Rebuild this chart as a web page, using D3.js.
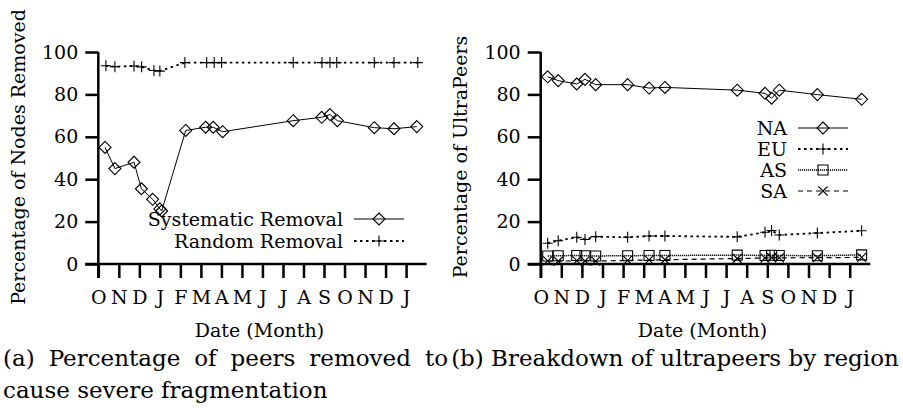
<!DOCTYPE html>
<html>
<head>
<meta charset="utf-8">
<script src="https://cdn.jsdelivr.net/npm/d3@7"></script>
<style>
  body { margin: 0; background: #fff; }
  svg { display: block; }
  text { font-family: "DejaVu Serif", serif; fill: #000; }
</style>
</head>
<body>
<svg id="chart" width="903" height="408"></svg>
<script>
// --- Data (months counted from the first October tick) ---
const monthTicks = ["O", "N", "D", "J", "F", "M", "A", "M", "J", "J", "A", "S", "O", "N", "D", "J"];
const yTicks = [0, 20, 40, 60, 80, 100];

// (a) fragmentation
const sysMonths = [0.33, 0.81, 1.74, 2.1, 2.65, 3.0, 3.09, 4.26, 5.23, 5.6, 6.06, 9.5, 10.89, 11.29, 11.65, 13.45, 14.41, 15.52];
const sysValues = [55, 45, 48, 35.5, 30.5, 26, 25, 63, 64.5, 64.5, 62.4, 67.6, 69.2, 70.5, 67.6, 64.3, 63.8, 64.8];
const randMonths = [0.37, 0.81, 1.74, 2.11, 2.71, 3.0, 4.22, 5.28, 5.65, 6.01, 9.5, 10.9, 11.29, 11.62, 13.45, 14.41, 15.57];
const randValues = [93.5, 93.1, 93.4, 93.0, 91.3, 91.0, 95.0, 95.0, 95.0, 95.0, 95.0, 95.0, 95.0, 95.0, 95.0, 95.0, 95.0];

// (b) ultrapeers by region
const regionMonths = [0.34, 0.85, 1.75, 2.15, 2.67, 4.22, 5.26, 6.03, 9.54, 10.89, 11.21, 11.58, 13.43, 15.58];
const naValues = [88.3, 86.5, 84.9, 87.1, 84.6, 84.6, 83.0, 83.3, 82.0, 80.5, 78.2, 82.0, 79.9, 77.7];
const euValues = [9.8, 11.0, 12.6, 11.6, 12.9, 12.6, 13.2, 13.2, 12.8, 15.0, 15.8, 13.7, 14.6, 15.7];
const asValues = [3.8, 3.9, 4.0, 3.9, 3.8, 3.9, 4.0, 4.0, 4.2, 4.0, 4.1, 4.0, 3.9, 4.3];
const saValues = [1.5, 1.3, 1.6, 1.5, 1.4, 1.7, 1.9, 2.0, 2.6, 2.8, 3.0, 2.9, 3.0, 3.1];

const svg = d3.select("#chart");
const FONT = 19;

// --- Marker shapes ---
const markers = {
  diamond: "M0,-6L6,0L0,6L-6,0Z",
  plus: "M-5,0H5M0,-5.5V5.5",
  square: "M-5,-5H5V5H-5Z",
  cross: "M-4.5,-4.5L4.5,4.5M-4.5,4.5L4.5,-4.5"
};

const zip = (ms, vs) => ms.map((m, i) => ({ m, v: vs[i] }));

function drawPanel(p) {
  const g = svg.append("g");
  const x = d3.scaleLinear().domain([0, 16]).range([p.x0, p.x1]);
  const y = d3.scaleLinear().domain([0, 100]).range([264, 52]);

  // axes: left ticks pointing out, bottom ticks pointing down
  const yAxis = g.append("g").attr("transform", `translate(${p.x0},0)`)
    .call(d3.axisLeft(y).tickValues(yTicks).tickSizeInner(13).tickSizeOuter(0).tickPadding(7));
  const xAxis = g.append("g").attr("transform", "translate(0,264)")
    .call(d3.axisBottom(x).tickValues(d3.range(monthTicks.length))
      .tickFormat(i => monthTicks[i]).tickSizeInner(14).tickSizeOuter(0).tickPadding(13));
  [yAxis, xAxis].forEach(a => {
    a.select(".domain").remove();
    a.selectAll("line").attr("stroke", "#000").attr("stroke-width", 2.5);
    a.selectAll("text").attr("font-size", FONT).attr("font-family", "DejaVu Serif").attr("fill", "#000");
  });
  g.append("line").attr("x1", p.x0).attr("x2", p.x0).attr("y1", y(100)).attr("y2", 278)
    .attr("stroke", "#000").attr("stroke-width", 2.5);
  g.append("line").attr("x1", p.x0 - 13).attr("x2", p.x1).attr("y1", y(0)).attr("y2", y(0))
    .attr("stroke", "#000").attr("stroke-width", 2.5);

  // axis titles
  g.append("text").attr("transform", `translate(${p.yLabelX},157) rotate(-90)`)
    .attr("text-anchor", "middle").attr("font-size", FONT).text(p.yLabel);
  g.append("text").attr("x", (p.x0 + p.x1) / 2 - 3).attr("y", 337)
    .attr("text-anchor", "middle").attr("font-size", FONT).text("Date (Month)");

  const line = d3.line().x(d => x(d.m)).y(d => y(d.v));

  p.series.forEach((s, k) => {
    const pts = zip(s.months, s.values);
    g.append("path").datum(pts).attr("d", line).attr("fill", "none")
      .attr("stroke", "#000").attr("stroke-width", s.width).attr("stroke-dasharray", s.dash);
    g.selectAll(null).data(pts).join("path")
      .attr("transform", d => `translate(${x(d.m)},${y(d.v)})`)
      .attr("d", markers[s.marker]).attr("fill", "none").attr("stroke", "#000").attr("stroke-width", 1.1);

    // legend entry
    const ly = p.legendY + k * p.legendStep;
    g.append("text").attr("x", p.legendRight).attr("y", ly).attr("dy", "0.35em")
      .attr("text-anchor", "end").attr("font-size", FONT).text(s.name);
    g.append("line").attr("x1", p.legendRight + 11).attr("x2", p.legendRight + 61)
      .attr("y1", ly).attr("y2", ly).attr("stroke", "#000")
      .attr("stroke-width", s.width).attr("stroke-dasharray", s.dash);
    g.append("path").attr("transform", `translate(${p.legendRight + 36},${ly})`)
      .attr("d", markers[s.marker]).attr("fill", "none").attr("stroke", "#000").attr("stroke-width", 1.1);
  });
}

drawPanel({
  x0: 98.3, x1: 426.6, yLabelX: 25, yLabel: "Percentage of Nodes Removed",
  legendRight: 343, legendY: 219, legendStep: 22,
  series: [
    { name: "Systematic Removal", months: sysMonths, values: sysValues, marker: "diamond", width: 1, dash: null },
    { name: "Random Removal", months: randMonths, values: randValues, marker: "plus", width: 1.8, dash: "2.5,3.5" }
  ]
});

drawPanel({
  x0: 540.7, x1: 870.3, yLabelX: 467, yLabel: "Percentage of UltraPeers",
  legendRight: 787, legendY: 128, legendStep: 21,
  series: [
    { name: "NA", months: regionMonths, values: naValues, marker: "diamond", width: 1, dash: null },
    { name: "EU", months: regionMonths, values: euValues, marker: "plus", width: 1.8, dash: "2.5,3.5" },
    { name: "AS", months: regionMonths, values: asValues, marker: "square", width: 1.5, dash: "1.2,0.8" },
    { name: "SA", months: regionMonths, values: saValues, marker: "cross", width: 1.2, dash: "5,4" }
  ]
});

// --- Captions (first line of (a) justified across its half) ---
const CAP = 23;
function justified(words, x0, x1, yb) {
  const t = svg.append("text").attr("y", yb).attr("font-size", CAP);
  const spans = words.map(w => t.append("tspan").text(w));
  const widths = spans.map(s => s.node().getComputedTextLength());
  const gap = (x1 - x0 - d3.sum(widths)) / (words.length - 1);
  let cx = x0;
  spans.forEach((s, i) => { s.attr("x", cx); cx += widths[i] + gap; });
}
justified(["(a)", "Percentage", "of", "peers", "removed", "to"], 3, 448, 366);
svg.append("text").attr("x", 3).attr("y", 398).attr("font-size", CAP).text("cause severe fragmentation");
svg.append("text").attr("x", 675).attr("y", 366).attr("text-anchor", "middle")
  .attr("font-size", CAP).text("(b) Breakdown of ultrapeers by region");
</script>
</body>
</html>
